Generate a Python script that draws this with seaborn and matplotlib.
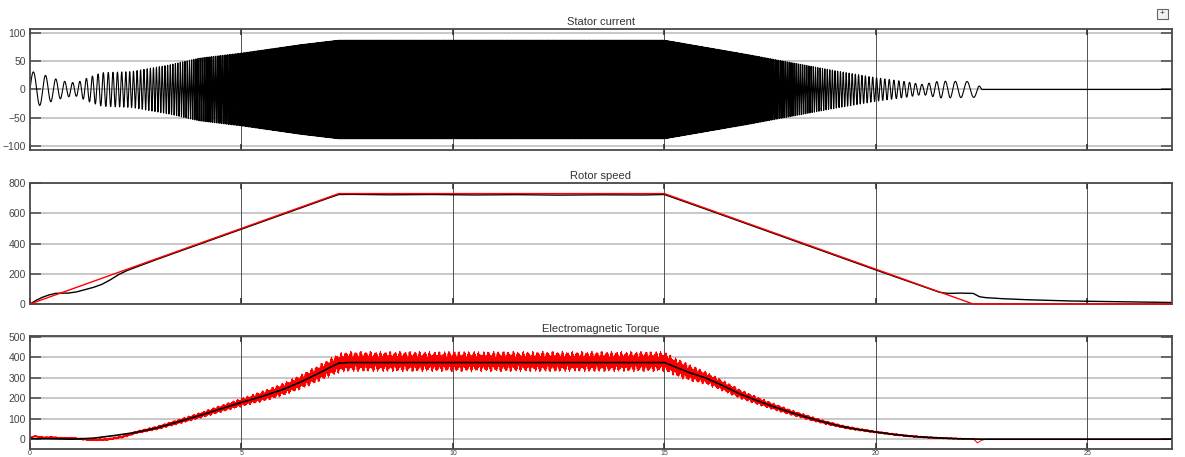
import numpy as np
import pandas as pd
import matplotlib
matplotlib.use("Agg")
import matplotlib.pyplot as plt
import seaborn as sns
from matplotlib.patches import Rectangle

# ---------------------------------------------------------------- data
T_END = 27.0          # simulated time span (s)
FS = 2000             # scope sample rate (samples/s)

x_ticks = [0, 5, 10, 15, 20, 25]
x_tick_labels = ["0", "5", "10", "15", "20", "25"]

# speed reference (red trace), trapezoidal profile
speed_ref_t = [0.0, 7.3, 15.0, 22.3, 27.0]
speed_ref_v = [0.0, 730.0, 730.0, 0.0, 0.0]

# measured rotor speed (black trace)
speed_t = [0.0, 0.15, 0.3, 0.45, 0.6, 0.75, 0.9, 1.1, 1.3, 1.5, 1.7, 1.9, 2.1,
           2.3, 3.0, 4.0, 5.0, 6.0, 7.0, 7.3, 7.6, 8.5, 9.5, 10.5, 11.5, 12.5,
           13.5, 14.5, 15.0, 16.0, 17.0, 18.0, 19.0, 20.0, 21.0, 21.5, 21.7,
           22.0, 22.3, 22.45, 22.6, 23.0, 23.6, 24.6, 25.5, 26.5, 27.0]
speed_v = [0, 25, 45, 60, 70, 72, 72, 80, 95, 110, 130, 160, 195,
           222, 295, 395, 495, 595, 695, 724, 725, 722, 724, 721, 723, 720,
           722, 721, 724, 625, 525, 425, 325, 225, 127, 78, 70,
           72, 70, 48, 42, 35, 28, 20, 16, 12, 10]

# stator current amplitude envelope (A)
current_env_t = [0.0, 0.3, 0.6, 0.9, 1.1, 1.4, 1.7, 2.4, 3.3, 4.0, 5.0, 6.4,
                 7.3, 15.0, 16.0, 17.0, 18.0, 19.0, 20.0, 20.7, 21.1, 21.5,
                 22.4, 22.5, 27.0]
current_env_a = [33, 27, 19, 13, 12, 22, 30, 32, 44, 56, 65, 80,
                 88, 88, 75, 62, 48, 34, 21, 14, 9, 15,
                 14, 0, 0]

# supply frequency law f = F0 + K1 * w + K2 * w^2  (Hz, w in rpm)
SUPPLY_F0 = 3.0
SUPPLY_K1 = 0.02
SUPPLY_K2 = 0.00006

# electromagnetic torque, mean response (black trace)
torque_t = [0.0, 0.5, 1.0, 1.5, 2.0, 2.5, 3.0, 3.5, 4.0, 4.5, 5.0, 5.5, 6.0,
            6.4, 6.8, 7.1, 7.3, 7.5, 15.0, 15.3, 15.6, 16.0, 16.4, 16.8, 17.2,
            17.6, 18.0, 18.4, 18.8, 19.2, 19.6, 20.0, 20.4, 20.8, 21.2, 21.6,
            22.0, 22.5, 27.0]
torque_v = [3, 2, 0, 5, 18, 33, 55, 85, 115, 148, 180, 210, 245,
            280, 320, 352, 372, 375, 375, 350, 325, 298, 260, 220, 188,
            158, 130, 105, 82, 62, 47, 35, 24, 15, 9, 5,
            2, 0, 0]

# electromagnetic torque, instantaneous (red trace): local mean and ripple band
torque_red_t = [0.0, 0.1, 0.2, 0.35, 0.5, 0.7, 1.0, 1.4, 1.8, 2.2, 2.5, 3.0,
                3.5, 4.0, 4.5, 5.0, 5.5, 6.0, 6.4, 6.8, 7.1, 7.3, 7.5, 15.0,
                15.3, 15.6, 16.0, 16.4, 16.8, 17.2, 17.6, 18.0, 18.4, 18.8,
                19.2, 19.6, 20.0, 20.4, 20.8, 21.2, 21.6, 22.0, 22.3, 22.4,
                22.5, 22.6, 27.0]
torque_red_v = [5, 15, 12, 8, 10, 6, 5, -3, -2, 12, 33, 55,
                85, 115, 148, 180, 210, 245, 280, 320, 352, 372, 380, 380,
                350, 325, 298, 260, 220, 188, 158, 130, 105, 82,
                62, 47, 35, 24, 15, 9, 5, 2, 2, -18,
                -5, 0, 0]
ripple_t = [0.0, 2.0, 3.0, 4.0, 5.0, 6.0, 7.0, 7.3, 15.0, 15.5, 16.0, 17.0,
            18.0, 19.0, 20.0, 21.0, 22.0, 22.5, 27.0]
ripple_a = [3, 5, 9, 14, 20, 30, 40, 46, 46, 40, 30, 20,
            13, 8, 5, 4, 3, 0, 0]

# ---------------------------------------------------------------- signals
t = np.arange(0.0, T_END, 1.0 / FS)

# stator current: sinusoid whose frequency follows the speed reference
w_ref = np.interp(t, speed_ref_t, speed_ref_v)
freq = SUPPLY_F0 + SUPPLY_K1 * w_ref + SUPPLY_K2 * w_ref ** 2
phase = 2 * np.pi * np.cumsum(freq) / FS
i_stator = np.interp(t, current_env_t, current_env_a) * np.sin(phase)

# instantaneous torque: mean + slot/supply harmonics scaled by the ripple band
ripple = (0.55 * np.sin(2 * np.pi * 50.0 * t)
          + 0.30 * np.sin(2 * np.pi * 137.0 * t + 1.0)
          + 0.25 * np.sin(2 * np.pi * 8.6 * t))
te_red = np.interp(t, torque_red_t, torque_red_v) + np.interp(t, ripple_t, ripple_a) * ripple

df_current = pd.DataFrame({"t": t, "i": i_stator})
df_te = pd.DataFrame({"t": t, "te": te_red})

# ---------------------------------------------------------------- style
sns.set_style("white")
plt.rcParams["font.family"] = ["Liberation Sans", "DejaVu Sans"]

W, H = 1185, 457
fig = plt.figure(figsize=(W / 100, H / 100), dpi=100)

left, width = 30 / W, 1142 / W
ax1 = fig.add_axes([left, 1 - 150 / H, width, 121 / H])
ax2 = fig.add_axes([left, 1 - 304 / H, width, 121 / H])
ax3 = fig.add_axes([left, 1 - 449 / H, width, 113 / H])

GRID_H = "#c4c4c4"
GRID_V = "#505050"
FRAME = "#4a4a4a"
LABEL = "#444444"


def scope_axes(ax, ylim, yticks, title, show_xlabels=False):
    ax.set_xlim(0, T_END)
    ax.set_ylim(*ylim)
    ax.set_yticks(yticks)
    ax.set_xticks(x_ticks)
    ax.set_xticklabels(x_tick_labels if show_xlabels else [])
    ax.grid(False)
    for y in yticks:
        ax.axhline(y, color=GRID_H, lw=1.3, zorder=0.5)
    for x in x_ticks[1:]:
        ax.axvline(x, color=GRID_V, lw=0.7, zorder=0.5)
    for s in ax.spines.values():
        s.set_color(FRAME)
        s.set_linewidth(1.3)
    ax.tick_params(axis="y", direction="in", length=8, width=1.2, color="#555555",
                   left=True, right=True, labelsize=7.5, labelcolor=LABEL, pad=3)
    ax.tick_params(axis="x", direction="in", length=4, width=1.2, color="#333333",
                   bottom=True, top=True, labelsize=5, labelcolor=LABEL, pad=0.5)
    ax.set_title(title, fontsize=8, color="#333333", pad=3)
    ax.set_xlabel("")
    ax.set_ylabel("")


# Stator current
sns.lineplot(data=df_current, x="t", y="i", ax=ax1, color="black", linewidth=0.8,
             estimator=None, sort=False, errorbar=None)
scope_axes(ax1, (-108, 108), [-100, -50, 0, 50, 100], "Stator current")

# Rotor speed
sns.lineplot(x=speed_t, y=speed_v, ax=ax2, color="black", linewidth=1.0,
             estimator=None, sort=False, errorbar=None)
sns.lineplot(x=speed_ref_t, y=speed_ref_v, ax=ax2, color="red", linewidth=1.0,
             estimator=None, sort=False, errorbar=None)
ax2.lines[-1].set_clip_on(False)
ax2.lines[-1].set_zorder(5)
scope_axes(ax2, (0, 800), [0, 200, 400, 600, 800], "Rotor speed")

# Electromagnetic torque
sns.lineplot(data=df_te, x="t", y="te", ax=ax3, color="red", linewidth=0.7,
             estimator=None, sort=False, errorbar=None)
sns.lineplot(x=torque_t, y=torque_v, ax=ax3, color="black", linewidth=1.2,
             estimator=None, sort=False, errorbar=None)
scope_axes(ax3, (-48, 505), [0, 100, 200, 300, 400, 500], "Electromagnetic Torque",
           show_xlabels=True)

# scope "restore" button in the corner
fig.patches.append(Rectangle((1157 / W, 1 - 19 / H), 11 / W, 10 / H,
                             transform=fig.transFigure, facecolor="#f2f2f2",
                             edgecolor="#666666", linewidth=0.8))
fig.text(1162.5 / W, 1 - 14 / H, "+", fontsize=6, ha="center", va="center",
         color="#333333")

fig.savefig("out.png", dpi=100)
